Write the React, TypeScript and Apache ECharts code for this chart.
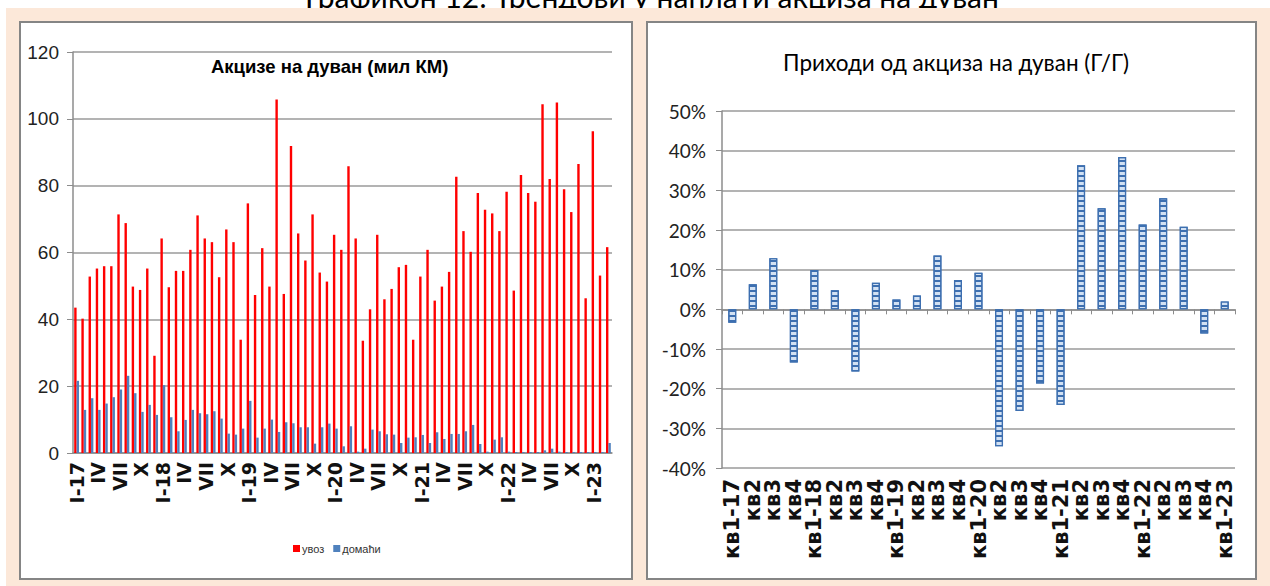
import React, { useEffect, useRef } from 'react';
import * as echarts from 'echarts';

// ---- Data ----
const monthNames = ['I', 'II', 'III', 'IV', 'V', 'VI', 'VII', 'VIII', 'IX', 'X', 'XI', 'XII'];
const yearSuffixes = ['17', '18', '19', '20', '21', '22', '23'];
const monthsShown = 75; // I-17 .. III-23

const importExcise = [
  43.5, 40.2, 52.8, 55.2, 55.9, 55.9, 71.4, 68.8, 49.8, 48.8, 55.2, 29.1,
  64.2, 49.6, 54.5, 54.5, 60.8, 71.1, 64.2, 63.1, 52.6, 66.9, 63.1, 33.9,
  74.7, 47.3, 61.3, 49.8, 105.8, 47.6, 91.9, 65.7, 57.6, 71.4, 54.0, 51.3,
  65.3, 60.8, 85.8, 64.2, 33.6, 43.0, 65.3, 46.0, 49.1, 55.6, 56.3, 33.9,
  52.8, 60.8, 45.6, 49.8, 54.2, 82.7, 66.4, 60.2, 77.8, 72.8, 71.7, 66.4,
  78.2, 48.6, 83.2, 77.8, 75.2, 104.4, 82.0, 104.9, 78.9, 72.1, 86.5, 46.3,
  96.3, 53.1, 61.6,
];

const domesticExcise = [
  21.6, 12.9, 16.4, 12.9, 14.8, 16.7, 19.0, 23.1, 17.9, 12.3, 14.4, 11.4,
  20.3, 10.7, 6.5, 9.9, 12.9, 11.9, 11.6, 12.5, 10.3, 5.8, 5.5, 7.3,
  15.6, 4.6, 7.3, 10.0, 6.3, 9.2, 8.9, 7.7, 7.7, 2.8, 7.7, 8.8,
  7.3, 2.0, 8.0, 0.4, 1.3, 7.0, 6.5, 5.6, 5.5, 3.0, 4.6, 4.7,
  5.4, 3.0, 6.2, 4.2, 5.7, 5.7, 6.5, 8.4, 2.7, 0.4, 4.0, 4.7,
  0.4, 0.3, 0.3, 0.3, 0.3, 0.8, 1.3, 0.4, 0.3, 0.3, 0.3, 0.3,
  0.3, 0.3, 3.0,
];

const quarterLabels = [
  'кв1-17', 'кв2', 'кв3', 'кв4',
  'кв1-18', 'кв2', 'кв3', 'кв4',
  'кв1-19', 'кв2', 'кв3', 'кв4',
  'кв1-20', 'кв2', 'кв3', 'кв4',
  'кв1-21', 'кв2', 'кв3', 'кв4',
  'кв1-22', 'кв2', 'кв3', 'кв4',
  'кв1-23',
];

const yoyGrowth = [
  -3.4, 6.3, 12.9, -13.4,
  9.9, 4.8, -15.7, 6.7,
  2.5, 3.5, 13.6, 7.4,
  9.2, -34.5, -25.6, -18.7,
  -24.1, 36.3, 25.5, 38.4,
  21.4, 28.0, 20.8, -6.1,
  2.0,
];

const monthCategories: string[] = [];
for (let i = 0; i < monthsShown; i++) {
  const m = i % 12;
  const y = Math.floor(i / 12);
  monthCategories.push(m === 0 ? `I-${yearSuffixes[y]}` : monthNames[m]);
}

const pageTitle = 'Графикон 12: Трендови у наплати акциза на дуван';
const leftTitle = 'Акцизе на дуван (мил КМ)';
const rightTitle = 'Приходи од акциза на дуван (Г/Г)';

const GRID = '#9a9a9a';
const AXIS = '#8c8c8c';
const NARROW = "'Liberation Sans Narrow', 'Liberation Sans', sans-serif";
const SANS = "Lato, 'Noto Sans', sans-serif";
const WIDE = "'DejaVu Sans', sans-serif";

export default function App() {
  const ref = useRef<HTMLDivElement>(null);

  useEffect(() => {
    if (!ref.current) return;
    const chart = echarts.init(ref.current, undefined, { renderer: 'svg' });
    const option: any = {
      animation: false,
      backgroundColor: '#ffffff',
      graphic: [
        {
          type: 'text',
          z: -30,
          style: {
            x: 652,
            y: 11,
            text: pageTitle,
            fill: '#000',
            font: `30px ${SANS}`,
            textAlign: 'center',
            textVerticalAlign: 'bottom',
          },
        },
        {
          type: 'rect',
          z: -20,
          shape: { x: 6, y: 8, width: 1264, height: 578 },
          style: { fill: '#fce8d9' },
        },
        {
          type: 'rect',
          z: -10,
          shape: { x: 20, y: 22, width: 612, height: 557 },
          style: { fill: '#ffffff', stroke: '#858585', lineWidth: 2 },
        },
        {
          type: 'rect',
          z: -10,
          shape: { x: 647, y: 22, width: 609, height: 557 },
          style: { fill: '#ffffff', stroke: '#858585', lineWidth: 2 },
        },
      ],
      title: [
        {
          text: leftTitle,
          left: 206,
          top: 52,
          textStyle: { fontFamily: NARROW, fontWeight: 'bold', fontSize: 18.5, color: '#000' },
        },
        {
          text: rightTitle,
          left: 778,
          top: 46,
          textStyle: { fontFamily: SANS, fontWeight: 'normal', fontSize: 22.5, color: '#000' },
        },
      ],
      legend: {
        data: ['увоз', 'домаћи'],
        left: 288,
        top: 538,
        icon: 'rect',
        itemWidth: 7,
        itemHeight: 7,
        itemGap: 9,
        textStyle: { fontFamily: NARROW, fontSize: 11, color: '#333', padding: [0, 0, 0, -3] },
      },
      grid: [
        { left: 73, top: 52, width: 539, height: 401 },
        { left: 722, top: 111, width: 513, height: 357 },
      ],
      xAxis: [
        {
          gridIndex: 0,
          type: 'category',
          data: monthCategories,
          axisLine: { lineStyle: { color: AXIS, width: 1.5 } },
          axisTick: { interval: 0, length: 6, lineStyle: { color: AXIS } },
          axisLabel: {
            interval: 2,
            rotate: 90,
            margin: 9,
            fontFamily: WIDE,
            fontSize: 19,
            fontWeight: 'bold',
            color: '#111',
          },
        },
        {
          gridIndex: 1,
          type: 'category',
          data: quarterLabels,
          position: 'bottom',
          axisLine: { show: false, onZero: false },
          axisTick: { show: false },
          axisLabel: {
            interval: 0,
            rotate: 90,
            margin: 11,
            fontFamily: WIDE,
            fontSize: 21,
            fontWeight: 'bold',
            color: '#111',
          },
        },
        {
          gridIndex: 1,
          type: 'category',
          data: quarterLabels,
          position: 'top',
          axisLine: { show: true, onZero: true, lineStyle: { color: AXIS, width: 1.5 } },
          axisTick: { show: true, inside: true, interval: 0, length: 5, lineStyle: { color: AXIS } },
          axisLabel: { show: false },
          splitLine: { show: false },
        },
      ],
      yAxis: [
        {
          gridIndex: 0,
          type: 'value',
          min: 0,
          max: 120,
          interval: 20,
          axisLine: { show: true, lineStyle: { color: AXIS, width: 1.5 } },
          axisTick: { show: true, length: 6, lineStyle: { color: AXIS } },
          splitLine: { lineStyle: { color: GRID, width: 1.5 } },
          axisLabel: { fontFamily: NARROW, fontSize: 19, color: '#222', margin: 14 },
        },
        {
          gridIndex: 1,
          type: 'value',
          min: -40,
          max: 50,
          interval: 10,
          axisLine: { show: true, lineStyle: { color: AXIS, width: 1.5 } },
          axisTick: { show: true, length: 6, lineStyle: { color: AXIS } },
          splitLine: { lineStyle: { color: GRID, width: 1.5 } },
          axisLabel: { fontFamily: SANS, fontSize: 19, color: '#222', margin: 16, formatter: '{value}%' },
        },
      ],
      series: [
        {
          name: 'увоз',
          type: 'bar',
          xAxisIndex: 0,
          yAxisIndex: 0,
          data: importExcise,
          barWidth: 2.4,
          barGap: '0%',
          itemStyle: { color: '#ff0000' },
        },
        {
          name: 'домаћи',
          type: 'bar',
          xAxisIndex: 0,
          yAxisIndex: 0,
          data: domesticExcise,
          barWidth: 2.4,
          barGap: '0%',
          itemStyle: { color: '#4f81bd' },
        },
        {
          name: 'Г/Г',
          type: 'bar',
          xAxisIndex: 1,
          yAxisIndex: 1,
          data: yoyGrowth,
          barWidth: 8,
          itemStyle: {
            color: '#d2e1f3',
            borderColor: '#3d6fb0',
            borderWidth: 1.2,
            decal: {
              symbol: 'rect',
              symbolSize: 1,
              color: '#3d6fb0',
              dashArrayX: [1, 0],
              dashArrayY: [1.2, 2.4],
              rotation: 0,
            },
          },
        },
      ],
    };
    chart.setOption(option);
    return () => chart.dispose();
  }, []);

  return (
    <div
      ref={ref}
      style={{ position: 'fixed', left: 0, top: 0, width: 1270, height: 586 }}
    />
  );
}
